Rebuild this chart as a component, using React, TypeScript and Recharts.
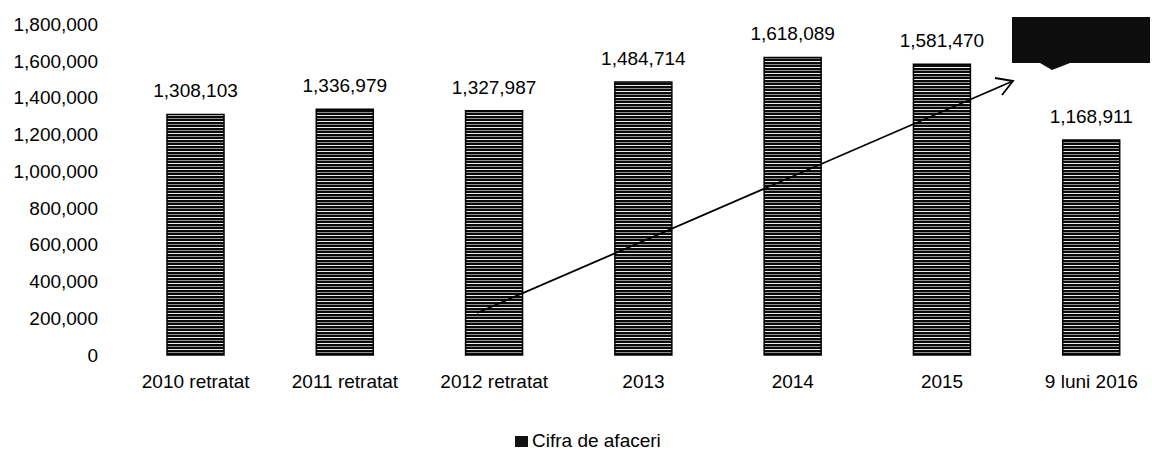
import React from 'react';
import { BarChart, Bar, XAxis, YAxis, LabelList, Legend } from 'recharts';

const categories = ['2010 retratat', '2011 retratat', '2012 retratat', '2013', '2014', '2015', '9 luni 2016'];
const values = [1308103, 1336979, 1327987, 1484714, 1618089, 1581470, 1168911];
const yTicks = [0, 200000, 400000, 600000, 800000, 1000000, 1200000, 1400000, 1600000, 1800000];
const seriesName = 'Cifra de afaceri';

const data = categories.map((c, i) => ({ category: c, value: values[i] }));

const FONT = '"Liberation Sans", Arial, sans-serif';
const fmt = (v: number) => v.toLocaleString('en-US');

const LegendContent = () => (
  <div style={{ display: 'flex', alignItems: 'center', fontFamily: FONT, fontSize: 19, color: '#000', height: 22, lineHeight: '22px' }}>
    <span style={{ width: 13, height: 11, background: '#111', display: 'inline-block', marginRight: 4 }} />
    <span>{seriesName}</span>
  </div>
);

export default function App() {
  return (
    <div style={{ width: 1152, height: 451, overflow: 'hidden', position: 'relative', background: '#fff' }}>
      <style>{'html,body{margin:0;padding:0;overflow:hidden;}'}</style>
      <BarChart
        width={1166}
        height={451}
        data={data}
        margin={{ top: 24, right: 0, left: 0, bottom: 0 }}
      >
        <defs>
          <pattern id="stripes" patternUnits="userSpaceOnUse" width="8" height="6">
            <rect x="0" y="0" width="8" height="6" fill="#0a0a0a" />
            <rect x="0" y="1" width="8" height="1" fill="#eeeeee" />
            <rect x="0" y="4" width="8" height="1" fill="#8f8f8f" />
          </pattern>
        </defs>
        <XAxis
          dataKey="category"
          axisLine={false}
          tickLine={false}
          tickSize={0}
          tickMargin={20}
          height={66}
          interval={0}
          tick={{ fill: '#000', fontSize: 19, fontFamily: FONT }}
        />
        <YAxis
          domain={[0, 1800000]}
          ticks={yTicks}
          axisLine={false}
          tickLine={false}
          tickSize={0}
          tickMargin={23}
          width={121}
          tickFormatter={fmt}
          tick={{ fill: '#000', fontSize: 19, fontFamily: FONT }}
        />
        <Legend
          verticalAlign="bottom"
          content={<LegendContent />}
          wrapperStyle={{ left: 515, bottom: 0, width: 220, height: 30, paddingTop: 9, boxSizing: 'border-box' }}
        />
        <Bar
          dataKey="value"
          name={seriesName}
          fill="url(#stripes)"
          stroke="#000"
          strokeWidth={1.5}
          barSize={57}
          isAnimationActive={false}
        >
          <LabelList
            dataKey="value"
            position="top"
            offset={17}
            formatter={(v: any) => fmt(Number(v))}
            style={{ fill: '#000', fontSize: 19, fontFamily: FONT }}
          />
        </Bar>
      </BarChart>
      <svg
        width={1152}
        height={451}
        style={{ position: 'absolute', left: 0, top: 0, pointerEvents: 'none' }}
      >
        <line x1={477} y1={313} x2={1013} y2={81} stroke="#000" strokeWidth={1.8} />
        <polyline points="995,78 1013,81 1002,95" fill="none" stroke="#000" strokeWidth={1.8} />
        <path d="M1012,17 L1150,17 L1150,63 L1070,63 L1052,70 L1040,63 L1012,63 Z" fill="#0d0d0d" />
      </svg>
    </div>
  );
}
